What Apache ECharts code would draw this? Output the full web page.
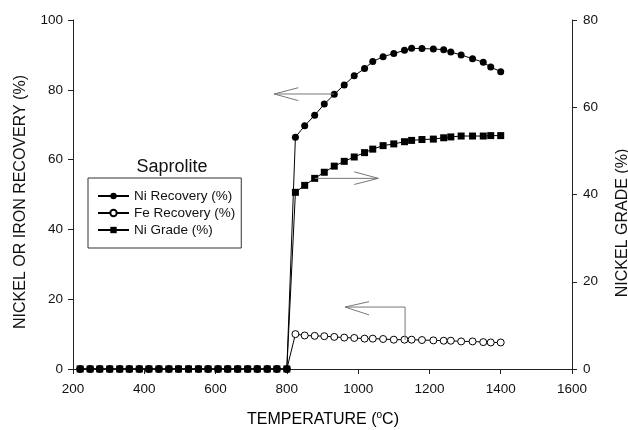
<!DOCTYPE html>
<html>
<head>
<meta charset="utf-8">
<script src="https://cdn.jsdelivr.net/npm/echarts@6/dist/echarts.min.js"></script>
<style>
html,body{margin:0;padding:0;background:#fff;}
#chart{width:628px;height:430px;}
</style>
</head>
<body>
<div id="chart"></div>
<script>
// ---- data ----
const temperature = [220, 248, 275, 303, 331, 358, 386, 413, 441, 469, 496, 524, 552, 579, 607, 634, 662, 690, 717, 745, 772, 800,
  824, 850, 878, 905, 933, 961, 989, 1018, 1041, 1070, 1100, 1130, 1150, 1179, 1211, 1240, 1260, 1289, 1321, 1351, 1372, 1400];
const niRecovery = [0,0,0,0,0,0,0,0,0,0,0,0,0,0,0,0,0,0,0,0,0,0,
  66.4, 69.7, 72.7, 75.9, 78.7, 81.4, 84.0, 86.1, 88.1, 89.5, 90.4, 91.3, 91.9, 91.8, 91.7, 91.5, 90.8, 90.0, 88.9, 87.9, 86.5, 85.2];
const feRecovery = [0,0,0,0,0,0,0,0,0,0,0,0,0,0,0,0,0,0,0,0,0,0,
  10.0, 9.6, 9.5, 9.4, 9.2, 9.0, 8.9, 8.7, 8.7, 8.6, 8.4, 8.4, 8.4, 8.3, 8.2, 8.1, 8.1, 7.9, 7.9, 7.7, 7.6, 7.6];
const niGrade = [0,0,0,0,0,0,0,0,0,0,0,0,0,0,0,0,0,0,0,0,0,0,
  40.5, 42.1, 43.7, 45.1, 46.5, 47.6, 48.6, 49.6, 50.4, 51.2, 51.6, 52.1, 52.4, 52.6, 52.7, 53.0, 53.2, 53.4, 53.4, 53.4, 53.5, 53.5];
const seriesNames = ['Ni Recovery (%)', 'Fe Recovery (%)', 'Ni Grade (%)'];
const xTicks = [200, 1600, 200];     // min, max, interval
const yLeftTicks = [0, 100, 20];
const yRightTicks = [0, 80, 20];
const legendTitle = 'Saprolite';
const xName = 'TEMPERATURE (';
const yLeftName = 'NICKEL OR IRON RECOVERY (%)';
const yRightName = 'NICKEL GRADE (%)';
// arrow annotations in data coordinates: [axisIndex, head polyline, shaft polyline]
const arrows = [
  [0, [[832, 80.6], [764.6, 78.8], [832, 76.9]], [[764.6, 78.8], [932, 78.8]]],
  [1, [[989, 45.2], [1056.7, 43.7], [989, 42.3]], [[878, 43.7], [1056.7, 43.7]]],
  [0, [[1030.6, 19.3], [963.2, 17.75], [1030.6, 15.5]], [[963.2, 17.75], [1131.7, 17.75], [1131.7, 8.4]]]
];

const pair = (ys) => temperature.map((t, i) => [t, ys[i]]);
const FONT = '"Liberation Sans", Arial, sans-serif';
const AX = '#222';

const chart = echarts.init(document.getElementById('chart'), null, {renderer: 'canvas'});
const plain = (v) => String(v);
const axisCommon = {
  type: 'value',
  axisLine: {show: true, lineStyle: {color: AX, width: 1}},
  axisTick: {show: true, length: 5, inside: false, lineStyle: {color: AX}},
  splitLine: {show: false},
  axisLabel: {color: '#111', fontFamily: FONT, fontSize: 13.5, formatter: plain}
};
chart.setOption({
  animation: false,
  backgroundColor: '#fff',
  grid: {left: 73, right: 56, top: 20, bottom: 61, containLabel: false},
  xAxis: Object.assign({}, axisCommon, {
    min: xTicks[0], max: xTicks[1], interval: xTicks[2],
    axisLabel: Object.assign({}, axisCommon.axisLabel, {margin: 13})
  }),
  yAxis: [
    Object.assign({}, axisCommon, {
      position: 'left', min: yLeftTicks[0], max: yLeftTicks[1], interval: yLeftTicks[2],
      axisLabel: Object.assign({}, axisCommon.axisLabel, {margin: 10})
    }),
    Object.assign({}, axisCommon, {
      position: 'right', min: yRightTicks[0], max: yRightTicks[1], interval: yRightTicks[2],
      axisLabel: Object.assign({}, axisCommon.axisLabel, {margin: 11})
    })
  ],
  legend: {
    orient: 'vertical', left: 88, top: 178,
    data: seriesNames,
    borderColor: '#333', borderWidth: 1,
    padding: [11, 6, 11, 9],
    itemWidth: 31, itemHeight: 8, itemGap: 3, itemTextGap: 5,
    textStyle: {color: '#111', fontFamily: FONT, fontSize: 13.5, lineHeight: 14}
  },
  series: [
    {name: seriesNames[1], type: 'line', yAxisIndex: 0, data: pair(feRecovery),
      symbol: 'circle', symbolSize: 7,
      itemStyle: {color: '#fff', borderColor: '#000', borderWidth: 1},
      lineStyle: {color: '#000', width: 1}, z: 2},
    {name: seriesNames[2], type: 'line', yAxisIndex: 1, data: pair(niGrade),
      symbol: 'rect', symbolSize: 7,
      itemStyle: {color: '#000'}, lineStyle: {color: '#000', width: 1}, z: 3},
    {name: seriesNames[0], type: 'line', yAxisIndex: 0, data: pair(niRecovery),
      symbol: 'circle', symbolSize: 7,
      itemStyle: {color: '#000'}, lineStyle: {color: '#000', width: 1}, z: 4}
  ]
});

// annotations placed via the axes' own conversion
const g = [];
arrows.forEach(([ai, head, shaft]) => {
  const conv = (p) => chart.convertToPixel({xAxisIndex: 0, yAxisIndex: ai}, p);
  g.push({type: 'polyline', shape: {points: head.map(conv)}, style: {stroke: '#777', lineWidth: 1, fill: null}, z: 10});
  g.push({type: 'polyline', shape: {points: shaft.map(conv)}, style: {stroke: '#777', lineWidth: 1, fill: null}, z: 10});
});
g.push({type: 'text', x: 172, y: 167, style: {text: legendTitle, fontFamily: FONT, fontSize: 18, fill: '#111', align: 'center', verticalAlign: 'middle'}});
g.push({type: 'text', x: 21, y: 202, rotation: Math.PI / 2, style: {text: yLeftName, fontFamily: FONT, fontSize: 16, fill: '#111', align: 'center', verticalAlign: 'middle'}});
g.push({type: 'text', x: 623, y: 223, rotation: Math.PI / 2, style: {text: yRightName, fontFamily: FONT, fontSize: 16, fill: '#111', align: 'center', verticalAlign: 'middle'}});
g.push({type: 'text', x: 323, y: 420, style: {
  text: '{a|' + xName + '}{s|o}{a|C)}', align: 'center', verticalAlign: 'middle',
  rich: {a: {fontFamily: FONT, fontSize: 16, color: '#111', lineHeight: 18},
         s: {fontFamily: FONT, fontSize: 10, color: '#111', padding: [0, 0, 9, 0]}}
}});
chart.setOption({graphic: g});
</script>
</body>
</html>
